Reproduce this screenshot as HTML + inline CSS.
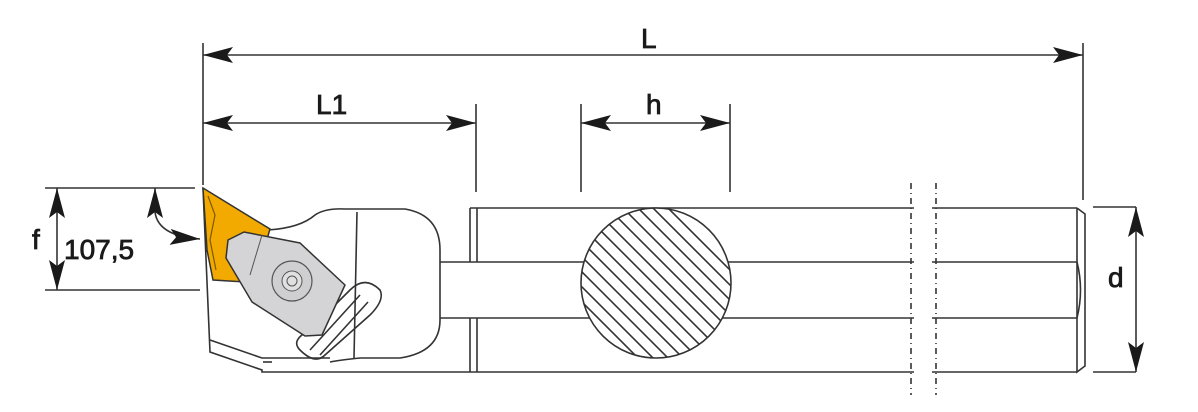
<!DOCTYPE html>
<html><head><style>html,body{margin:0;padding:0;background:#fff}svg{display:block}</style></head>
<body>
<svg width="1198" height="412" viewBox="0 0 1198 412" xmlns="http://www.w3.org/2000/svg" font-family="Liberation Sans, DejaVu Sans, sans-serif">
<defs>
<marker id="a" viewBox="0 0 30 16" refX="30" refY="8" markerWidth="30" markerHeight="16" markerUnits="userSpaceOnUse" orient="auto-start-reverse"><path d="M0,0 L30,8 L0,16 L6,8 Z" fill="#1a1a1a"/></marker>
<clipPath id="c"><circle cx="656" cy="283" r="75"/></clipPath>
</defs>
<g stroke="#333" stroke-width="1.6" fill="none">
<line x1="203" y1="43" x2="203" y2="185"/>
<line x1="1083" y1="43" x2="1083" y2="200"/>
<line x1="476" y1="104" x2="476" y2="192"/>
<line x1="581" y1="104" x2="581" y2="192"/>
<line x1="730" y1="104" x2="730" y2="192"/>
<line x1="45" y1="188" x2="195" y2="188"/>
<line x1="45" y1="290" x2="200" y2="290"/>
<line x1="1093" y1="207" x2="1136" y2="207"/>
<line x1="1093" y1="372" x2="1136" y2="372"/>
<line x1="203" y1="55" x2="1083" y2="55" marker-start="url(#a)" marker-end="url(#a)"/>
<line x1="203" y1="123" x2="476" y2="123" marker-start="url(#a)" marker-end="url(#a)"/>
<line x1="581" y1="123" x2="730" y2="123" marker-start="url(#a)" marker-end="url(#a)"/>
<line x1="57" y1="188" x2="57" y2="290" marker-start="url(#a)" marker-end="url(#a)"/>
<line x1="1136" y1="207" x2="1136" y2="372" marker-start="url(#a)" marker-end="url(#a)"/>
<path d="M155,188 L155,212 Q158,236 200,239" marker-start="url(#a)" marker-end="url(#a)"/>
<line x1="470" y1="208" x2="1077" y2="208"/>
<line x1="470" y1="372" x2="1077" y2="372"/>
<line x1="440" y1="262" x2="1077" y2="262"/>
<line x1="440" y1="318" x2="1077" y2="318"/>
<line x1="470" y1="208" x2="470" y2="262"/>
<line x1="477" y1="208" x2="477" y2="262"/>
<line x1="470" y1="318" x2="470" y2="372"/>
<line x1="477" y1="318" x2="477" y2="372"/>
<path d="M1077,208 L1085,214 L1085,366 L1077,372 L1077,208"/>
<path d="M1077,262 Q1084,290 1077,318"/>
<path d="M268,230 Q300,228 315,215 Q325,208 345,209 L405,209 Q440,215 440,250 L440,320 Q440,352 400,358 L360,358 Q340,360 330,362"/>
<path d="M203,188 L210,352 L262,370 L262,372 L470,372"/>
<path d="M210,340 L262,358 L330,358"/>
<line x1="357" y1="212" x2="354" y2="358"/>
<line x1="263" y1="362" x2="272" y2="362"/>
<path d="M300,350 Q290,340 310,330 L350,290 Q365,275 380,290 Q385,300 370,315 L325,355 Q315,365 300,350 Z"/>
<path d="M310,350 L360,295 M320,355 L368,302"/>
<circle cx="656" cy="283" r="75" fill="#fff"/>
<g clip-path="url(#c)" stroke-width="1.6">
<path d="M560,190 L760,390 M575,190 L775,390 M590,190 L790,390 M545,190 L745,390 M530,190 L730,390 M515,190 L715,390 M500,190 L700,390 M485,190 L685,390 M470,190 L670,390 M455,190 L655,390 M605,190 L805,390 M620,190 L820,390 M635,190 L835,390 M650,190 L850,390 M440,190 L640,390 M425,190 L625,390"/>
</g>
</g>
<polygon points="203,188 270,229 268,236 245,282 213,280 207,250" fill="#f2a900" stroke="#333" stroke-width="1.5"/>
<path d="M208,196 L215,215 L210,240 L216,270" stroke="#7a5a00" stroke-width="1.2" fill="none"/>
<polygon points="228,240 244,232 300,243 345,285 322,335 305,336 252,302 226,258" fill="#d4d4d6" stroke="#333" stroke-width="1.5"/>
<line x1="262" y1="235" x2="250" y2="275" stroke="#555"/>
<circle cx="292" cy="281" r="20" fill="#cfcfd1" stroke="#555" stroke-width="1.2"/>
<circle cx="292" cy="281" r="10" fill="#e0e0e0" stroke="#555"/>
<circle cx="292" cy="281" r="5" fill="none" stroke="#555"/>
<g stroke="#fff" stroke-width="18"><line x1="923" y1="200" x2="923" y2="380"/></g>
<g stroke="#333" stroke-width="1.6" stroke-dasharray="6,4,1,4">
<line x1="911" y1="183" x2="911" y2="395"/>
<line x1="936" y1="183" x2="936" y2="395"/>
</g>
<g fill="#1a1a1a" stroke="#1a1a1a" stroke-width="0.8" font-size="28">
<text x="641" y="48">L</text>
<text x="316" y="114">L1</text>
<text x="646" y="114">h</text>
<text x="32" y="249">f</text>
<text x="64" y="259">107,5</text>
<text x="1108" y="287">d</text>
</g>
</svg>
</body></html>
